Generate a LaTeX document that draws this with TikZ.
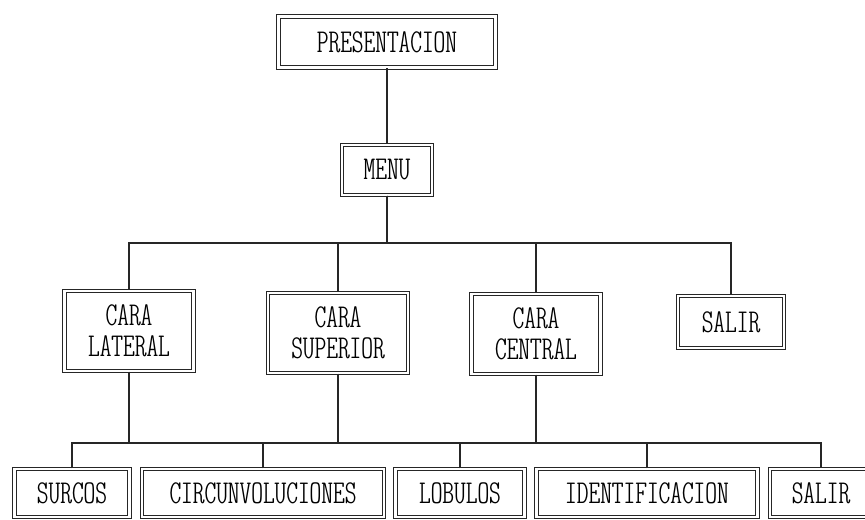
\documentclass[tikz,border=0pt]{standalone}
\usepackage{tikz}
\newcommand{\plotfont}{\fontfamily{lmtt}\fontseries{lc}\fontsize{19}{17.5}\selectfont}
\tikzstyle{every node}=[draw=black!85,line width=0.6pt,double,double distance=1.6pt,align=center,inner sep=0pt]
\tikzstyle{twoline}=[minimum height=1.6cm]

\begin{document}
\begin{tikzpicture}[x=0.02cm,y=-0.02cm,
				node font=\plotfont,
				line width=0.7pt,draw=black!85]
			\clip (0,0) rectangle (865,520);
			% top
			\node [minimum width=4.34cm,minimum height=1.02cm] (pres) at (387,42) {PRESENTACION};
			\node [minimum width=1.8cm,minimum height=1.0cm] (menu) at (387,170) {MENU};
			% second level
			\node [twoline,minimum width=2.58cm] (lat) at (129,331) {CARA\\LATERAL};
			\node [twoline,minimum width=2.8cm] (sup) at (338,333) {CARA\\SUPERIOR};
			\node [twoline,minimum width=2.58cm] (cen) at (536,334) {CARA\\CENTRAL};
			\node [minimum width=2.12cm,minimum height=1.04cm] (sal) at (731,322) {SALIR};
			% third level
			\node [minimum width=2.3cm,minimum height=0.96cm] (sur) at (72,493) {SURCOS};
			\node [minimum width=4.84cm,minimum height=0.96cm] (cir) at (263,493) {CIRCUNVOLUCIONES};
			\node [minimum width=2.58cm,minimum height=0.96cm] (lob) at (460,493) {LOBULOS};
			\node [minimum width=4.42cm,minimum height=0.96cm] (ide) at (647,493) {IDENTIFICACION};
			\node [minimum width=2.04cm,minimum height=0.96cm] (sal2) at (821,493) {SALIR};
			\coordinate (bus1) at (387,243);
			\coordinate (bus2) at (537,443);
			\draw (pres) -- (menu);
			\foreach \c in {lat,sup,cen,sal}
				\draw (menu.south) |- (bus1) -| (\c.north);
			\foreach \p in {lat,sup,cen}
				\draw (\p.south) -- (\p.south |- bus2);
			\draw (sur.north) |- (bus2) -| (sal2.north);
			\foreach \c in {cir,lob,ide}
				\draw (\c.north) -- (\c.north |- bus2);
		\end{tikzpicture}
\end{document}
